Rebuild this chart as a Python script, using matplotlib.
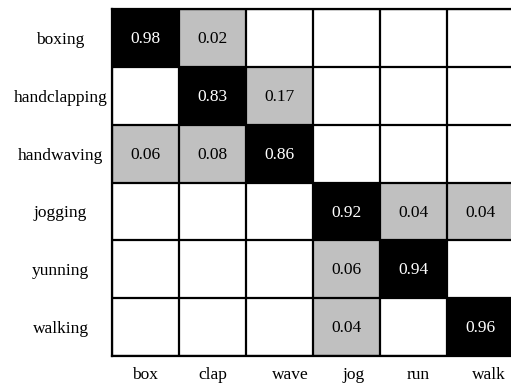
import numpy as np
import matplotlib.pyplot as plt
from matplotlib.colors import ListedColormap

rows = ["boxing", "handclapping", "handwaving", "jogging", "yunning", "walking"]
cols = ["box", "clap", "wave", "jog", "run", "walk"]

conf = np.array([
    [0.98, 0.02, 0.00, 0.00, 0.00, 0.00],
    [0.00, 0.83, 0.17, 0.00, 0.00, 0.00],
    [0.06, 0.08, 0.86, 0.00, 0.00, 0.00],
    [0.00, 0.00, 0.00, 0.92, 0.04, 0.04],
    [0.00, 0.00, 0.00, 0.06, 0.94, 0.00],
    [0.00, 0.00, 0.00, 0.04, 0.00, 0.96],
])

plt.rcParams['font.family'] = ['Liberation Serif', 'DejaVu Serif']

# 0 = empty, 1 = small (gray), 2 = large (black)
level = np.where(conf >= 0.5, 2, np.where(conf > 0, 1, 0))
cmap = ListedColormap(["white", "#c0c0c0", "black"])

fig = plt.figure(figsize=(5.11, 3.88), dpi=100)
# last column runs past the right edge of the picture
ax = fig.add_axes([112 / 511, 1 - 356 / 388, 402 / 511, 347 / 388])
ax.imshow(level, cmap=cmap, vmin=0, vmax=2, aspect='auto',
          interpolation='nearest')

for i in range(len(rows)):
    for j in range(len(cols)):
        v = conf[i, j]
        if v > 0:
            ax.text(j, i + 0.02, f"{v:.2f}", ha='center', va='center',
                    fontsize=12.5, color='white' if level[i, j] == 2 else 'black')

for k in np.arange(-0.5, len(cols), 1):
    ax.axvline(k, color='black', lw=1.6)
for k in np.arange(-0.5, len(rows), 1):
    ax.axhline(k, color='black', lw=1.6)

# column labels sit a little off-centre in the original
shift = [0.0, 0.0, 0.16, 0.11, 0.07, 0.13]
ax.set_xticks(np.arange(len(cols)) + np.array(shift))
ax.set_xticklabels(cols, fontsize=12.5)
ax.set_yticks(range(len(rows)))
ax.set_yticklabels(rows, fontsize=12.5, ha='center')
ax.set_xlim(-0.5, len(cols) - 0.5)
ax.tick_params(axis='both', length=0)
ax.tick_params(axis='x', pad=8)
ax.tick_params(axis='y', pad=37)
for s in ax.spines.values():
    s.set_linewidth(1.6)
ax.spines['right'].set_visible(False)

fig.savefig("out.png", dpi=100)
